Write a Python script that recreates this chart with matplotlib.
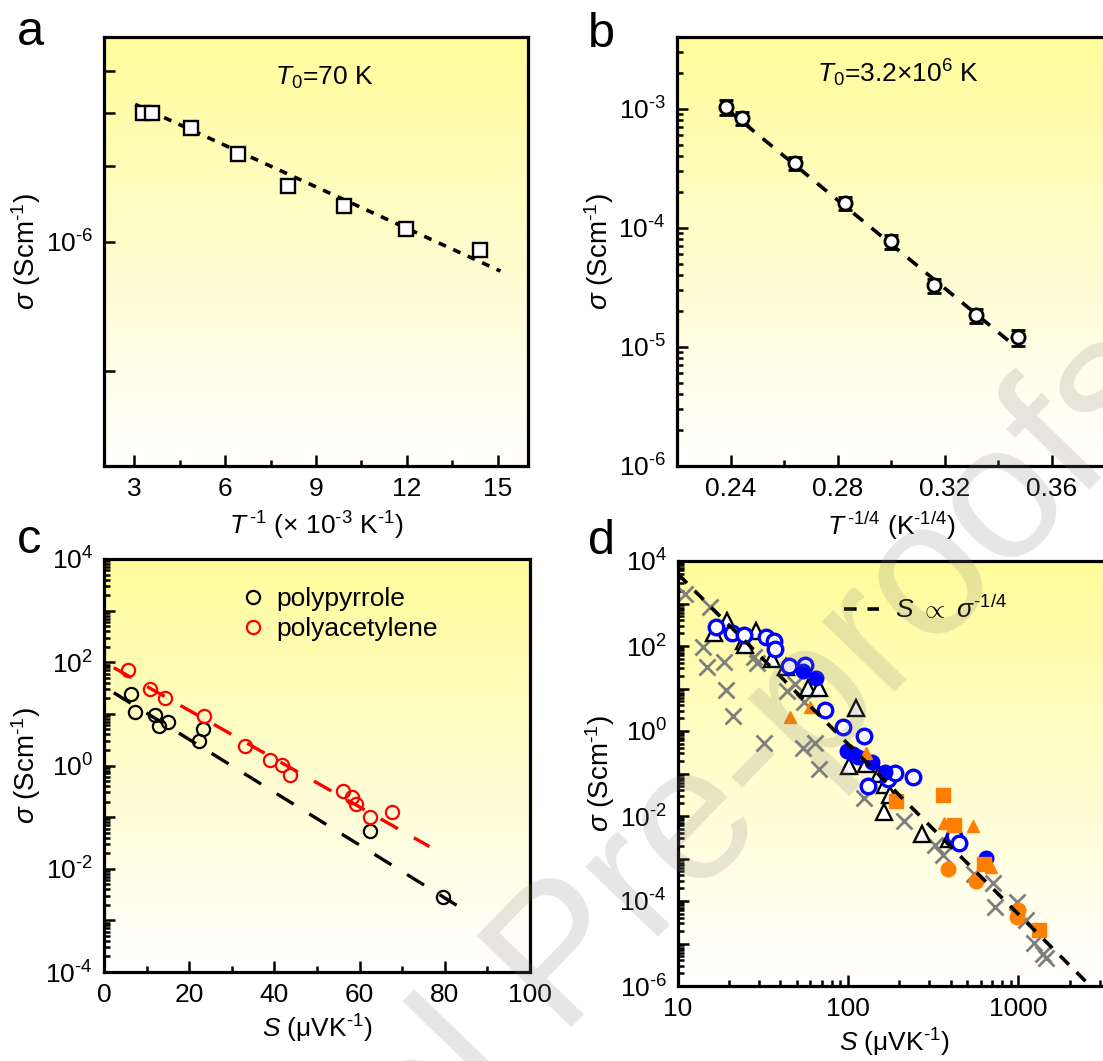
import matplotlib.pyplot as plt
import numpy as np
from matplotlib.ticker import (FixedLocator, FixedFormatter, LogLocator,
                               MultipleLocator, NullLocator, NullFormatter, FuncFormatter)
from matplotlib.lines import Line2D

plt.rcParams['font.family'] = ['Liberation Sans', 'DejaVu Sans']
plt.rcParams['mathtext.fontset'] = 'custom'
plt.rcParams['mathtext.rm'] = 'Liberation Sans'
plt.rcParams['mathtext.it'] = 'Liberation Sans:italic'
plt.rcParams['mathtext.bf'] = 'Liberation Sans:bold'
plt.rcParams['axes.unicode_minus'] = False

W, H = 1103, 1061

# ---- panel a: sigma vs 1/T (x 10^-3 K^-1)
a_x = [3.30, 3.58, 4.88, 6.41, 8.09, 9.92, 11.97, 14.42]
a_sigma = [2.00e-6, 2.00e-6, 1.84e-6, 1.60e-6, 1.35e-6, 1.21e-6, 1.07e-6, 0.957e-6]
a_fit_x = [3.03, 15.09]
a_fit_sigma = [2.09e-6, 8.54e-7]

# ---- panel b: sigma vs T^-1/4
b_x = [0.2382, 0.2442, 0.2641, 0.2829, 0.2999, 0.3162, 0.3316, 0.3473]
b_sigma = [1.03e-3, 8.3e-4, 3.5e-4, 1.6e-4, 7.7e-5, 3.3e-5, 1.85e-5, 1.2e-5]
b_err = [1.5e-4, 1.0e-4, 4.5e-5, 2.0e-5, 1.0e-5, 4.5e-6, 2.5e-6, 1.8e-6]
b_fit_x = [0.2385, 0.3445]
b_fit_sigma = [1.0e-3, 1.1e-5]

# ---- panel c: sigma vs S
ppy_S = [6.3, 7.35, 11.95, 12.9, 15.0, 22.3, 23.3, 62.4, 79.6]
ppy_sigma = [23.8, 10.8, 9.45, 5.78, 7.0, 2.95, 5.05, 0.0527, 0.00279]
pac_S = [5.65, 10.7, 14.4, 23.4, 33.2, 38.9, 41.8, 43.7, 56.0, 58.2, 59.2, 62.4, 67.7]
pac_sigma = [69.7, 29.8, 20.5, 9.04, 2.36, 1.30, 1.04, 0.665, 0.315, 0.241, 0.179, 0.100, 0.125]
ppy_fit_S = [2.3, 84.2]
ppy_fit_sigma = [25.7, 0.00166]
pac_fit_S = [2.3, 76.4]
pac_fit_sigma = [78.5, 0.0269]

# ---- panel d: sigma vs S, log-log
cross_S = [11.0, 15.4, 14.0, 14.9, 18.7, 19.2, 21.1, 27.8, 29.2, 31.8, 43.5, 48.4, 54.1,
           63.4, 67.2, 55.3, 123, 214, 322, 363, 547, 706, 731, 977, 1112, 1242, 1387, 1456]
cross_sigma = [1.7e3, 835, 97, 32, 42, 9.4, 2.3, 56, 40, 0.52, 8.6, 12.6, 0.39,
               0.52, 0.128, 4.9, 0.026, 0.0078, 0.0021, 0.0012, 4.3e-4, 2.7e-4, 7.1e-5,
               9.7e-5, 3.5e-5, 1.03e-5, 5.6e-6, 4.6e-6]
tri_S = [16.2, 19.4, 24.4, 24.9, 28.9, 35.9, 43.1, 58.1, 67.1, 111, 101, 127, 152, 164,
         176, 162, 272, 391]
tri_sigma = [205, 395, 129, 107, 226, 50.7, 31.8, 10.4, 10.4, 3.4, 0.149, 0.17, 0.097,
             0.055, 0.032, 0.0125, 0.0037, 0.0028]
bopen_S = [16.8, 20.8, 24.4, 32.9, 36.7, 37.1, 44.6, 55.9, 73, 92.9, 123, 131, 172, 189,
           241, 416, 445]
bopen_sigma = [283, 205, 180, 161, 129, 85, 33.6, 36, 3.1, 1.21, 0.76, 0.052, 0.073,
               0.101, 0.081, 0.0034, 0.0023]
bfill_S = [54.1, 64.6, 98.9, 106, 114, 138, 164, 649]
bfill_sigma = [26.4, 18, 0.33, 0.28, 0.25, 0.187, 0.11, 0.00104]
otri_S = [45.3, 59.6, 127, 367, 540, 687]
otri_sigma = [2.1, 3.7, 0.30, 0.0067, 0.0059, 6.3e-4]
osq_S = [192, 363, 416, 627, 1322]
osq_sigma = [0.023, 0.032, 0.0062, 7.6e-4, 2.06e-5]
ocirc_S = [385, 566, 1000, 977]
ocirc_sigma = [5.7e-4, 3.0e-4, 6.3e-5, 4.2e-5]
d_fit_S = [10, 4000]
d_fit_sigma = [4.9e3, 4.9e3 * (4000 / 10) ** -4]

ORANGE = '#FF8000'
BLUE = '#0000FF'
GREY = '#7F7F7F'

fig = plt.figure(figsize=(W / 100, H / 100), dpi=100)


def make_axes(left, right, top, bottom):
    rect = [left / W, 1 - bottom / H, (right - left) / W, (bottom - top) / H]
    bg = fig.add_axes(rect, zorder=0)
    t = np.linspace(0, 1, 256)[:, None]
    top_c = np.array([255, 252, 155]) / 255.0
    img = top_c[None, None, :] * (1 - t[..., None]) + np.ones(3)[None, None, :] * t[..., None]
    img = np.repeat(img, 4, axis=1)
    bg.imshow(img, aspect='auto', extent=[0, 1, 0, 1], interpolation='bilinear')
    bg.axis('off')
    ax = fig.add_axes(rect, zorder=1)
    ax.set_facecolor('none')
    for s in ax.spines.values():
        s.set_linewidth(2.3)
    ax.tick_params(which='both', direction='in', top=False, right=False,
                   labelsize=19, pad=8, width=1.8)
    ax.tick_params(which='major', length=8)
    ax.tick_params(which='minor', length=4.5)
    return ax


def pow_label(v, pos=None):
    e = int(round(np.log10(v)))
    if e < 0:
        return r'10$^{\text{-%d}}$' % -e
    return r'10$^{%d}$' % e


def even_pow_label(v, pos=None):
    e = int(round(np.log10(v)))
    if e % 2:
        return ''
    return pow_label(v)


YLAB = r'$\sigma$ (Scm$^{\text{-1}}$)'

# ---------------- a
ax = make_axes(104, 528, 37, 466)
ax.set_yscale('log')
ax.plot(a_fit_x, a_fit_sigma, color='k', lw=2.6, dashes=(2.2, 2.2))
ax.plot(a_x, a_sigma, 's', ms=9.5, mfc='white', mec='k', mew=1.7)
ax.set_xlim(2, 16)
ax.set_ylim(3e-7, 3e-6)
ax.xaxis.set_major_locator(MultipleLocator(3))
ax.xaxis.set_minor_locator(MultipleLocator(1.5))
ax.yaxis.set_major_locator(FixedLocator([5e-7, 1e-6, 1.5e-6, 2e-6, 2.5e-6]))
ax.yaxis.set_major_formatter(FixedFormatter(['', pow_label(1e-6), '', '', '']))
ax.yaxis.set_minor_locator(NullLocator())
ax.yaxis.set_minor_formatter(NullFormatter())
ax.set_xlabel(r'$T^{\,\text{-1}}$ (× 10$^{\text{-3}}$ K$^{\text{-1}}$)', fontsize=19, labelpad=6)
ax.set_ylabel(YLAB, fontsize=20, labelpad=2)
ax.text(0.52, 0.905, r'$T_{0}$=70 K', transform=ax.transAxes, fontsize=19,
        ha='center', va='center')

# ---------------- b
ax = make_axes(677, 1105, 37, 466)
ax.set_yscale('log')
ax.plot(b_fit_x, b_fit_sigma, color='k', lw=2.6, dashes=(3.5, 3))
ax.errorbar(b_x, b_sigma, yerr=b_err, fmt='o', ms=9.5, mfc='white', mec='k', mew=2.0,
            ecolor='k', elinewidth=1.3, capsize=5, capthick=1.3)
ax.set_xlim(0.22, 0.38)
ax.set_ylim(1e-6, 4e-3)
ax.xaxis.set_major_locator(MultipleLocator(0.04))
ax.xaxis.set_minor_locator(MultipleLocator(0.02))
ax.xaxis.set_major_formatter(FuncFormatter(lambda v, p: '%.2f' % v))
ax.yaxis.set_major_locator(LogLocator(base=10, numticks=20))
ax.yaxis.set_minor_locator(LogLocator(base=10, subs=np.arange(2, 10), numticks=20))
ax.yaxis.set_major_formatter(FuncFormatter(pow_label))
ax.yaxis.set_minor_formatter(NullFormatter())
ax.set_xlabel(r'$T^{\,\text{-1/4}}$ (K$^{\text{-1/4}}$)', fontsize=19, labelpad=6)
ax.set_ylabel(YLAB, fontsize=20, labelpad=2)
ax.text(0.516, 0.915, r'$T_{0}$=3.2×10$^{6}$ K', transform=ax.transAxes, fontsize=19,
        ha='center', va='center')

# ---------------- c
ax = make_axes(104, 530, 559, 972)
ax.set_yscale('log')
ax.plot(ppy_fit_S, ppy_fit_sigma, color='k', lw=2.4, dashes=(6, 5.5))
ax.plot(pac_fit_S, pac_fit_sigma, color='#FF0000', lw=2.4, dashes=(6, 5.5))
ax.plot(ppy_S, ppy_sigma, 'o', ms=9.5, mfc='none', mec='k', mew=1.6, label='polypyrrole')
ax.plot(pac_S, pac_sigma, 'o', ms=9.5, mfc='none', mec='#FF0000', mew=1.6,
        label='polyacetylene')
ax.set_xlim(0, 100)
ax.set_ylim(1e-4, 1e4)
ax.xaxis.set_major_locator(MultipleLocator(20))
ax.xaxis.set_minor_locator(MultipleLocator(10))
ax.yaxis.set_major_locator(LogLocator(base=10, numticks=20))
ax.yaxis.set_minor_locator(LogLocator(base=10, subs=np.arange(2, 10), numticks=20))
ax.yaxis.set_major_formatter(FuncFormatter(even_pow_label))
ax.yaxis.set_minor_formatter(NullFormatter())
ax.set_xlabel(r'$S$ (μVK$^{\text{-1}}$)', fontsize=19, labelpad=4)
ax.set_ylabel(YLAB, fontsize=20, labelpad=2)
ax.legend(loc='upper left', bbox_to_anchor=(0.30, 0.958), frameon=False, fontsize=19,
          handlelength=0.8, handletextpad=0.5, labelspacing=0.25, borderaxespad=0)

# ---------------- d
ax = make_axes(678, 1111, 561, 986)
ax.set_xscale('log')
ax.set_yscale('log')
ax.plot(d_fit_S, d_fit_sigma, color='k', lw=2.6, dashes=(3.5, 3), zorder=4)
ax.plot(cross_S, cross_sigma, 'x', ms=12, mew=2.0, color=GREY, zorder=2)
ax.plot(tri_S, tri_sigma, '^', ms=11.5, mfc='white', mec='k', mew=1.7, zorder=3)
ax.plot(bopen_S, bopen_sigma, 'o', ms=10.5, mfc='white', mec=BLUE, mew=2.4, zorder=3)
ax.plot(bfill_S, bfill_sigma, 'o', ms=10.5, color=BLUE, zorder=3)
ax.plot(otri_S, otri_sigma, '^', ms=8.5, color=ORANGE, zorder=3)
ax.plot(osq_S, osq_sigma, 's', ms=10, color=ORANGE, zorder=3)
ax.plot(ocirc_S, ocirc_sigma, 'o', ms=10.5, color=ORANGE, zorder=3)
ax.set_xlim(10, 3500)
ax.set_ylim(1e-6, 1e4)
ax.xaxis.set_major_locator(LogLocator(base=10, numticks=20))
ax.xaxis.set_minor_locator(LogLocator(base=10, subs=np.arange(2, 10), numticks=20))
ax.xaxis.set_major_formatter(FuncFormatter(lambda v, p: '%d' % round(v)))
ax.xaxis.set_minor_formatter(NullFormatter())
ax.yaxis.set_major_locator(LogLocator(base=10, numticks=20))
ax.yaxis.set_minor_locator(LogLocator(base=10, subs=np.arange(2, 10), numticks=20))
ax.yaxis.set_major_formatter(FuncFormatter(even_pow_label))
ax.yaxis.set_minor_formatter(NullFormatter())
ax.set_xlabel(r'$S$ (μVK$^{\text{-1}}$)', fontsize=19, labelpad=4)
ax.set_ylabel(YLAB, fontsize=20, labelpad=2)
h = [Line2D([], [], color='k', lw=2.6, dashes=(3.5, 3))]
ax.legend(h, [r'$S$ $\propto$ $\sigma^{\text{-1/4}}$'], loc='upper left',
          bbox_to_anchor=(0.36, 0.945), frameon=False, fontsize=19, handlelength=1.3,
          handletextpad=0.6, borderaxespad=0)

# panel letters
for s, x, y in [('a', 17, 45), ('b', 588, 47), ('c', 17, 553), ('d', 588, 554)]:
    fig.text(x / W, 1 - y / H, s, fontsize=35, ha='left', va='baseline')

# watermark
fig.text(1182 / W, 1 - 395 / H, 'Journal Pre-proofs', rotation=46, rotation_mode='anchor',
         ha='right', va='baseline', fontsize=138, color='0.5', alpha=0.2, zorder=10)

fig.savefig('out.png', dpi=100)
